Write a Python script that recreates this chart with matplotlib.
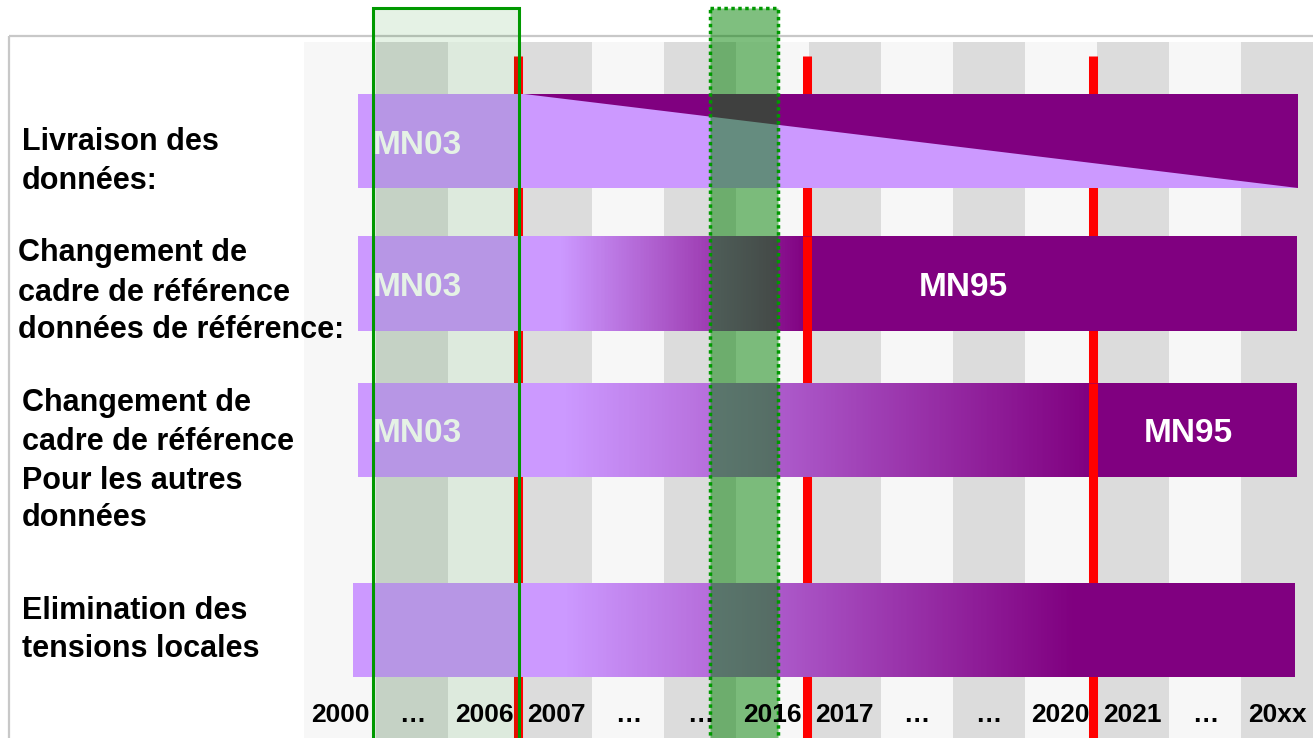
import numpy as np
from matplotlib import pyplot as plt
from matplotlib.colors import LinearSegmentedColormap
from matplotlib.patches import Rectangle, Polygon

plt.rcParams['font.family'] = ['Liberation Sans', 'DejaVu Sans']

# timeline columns (one column per tick label)
years = ["2000", "…", "2006", "2007", "…", "…", "2016", "2017", "…", "…", "2020", "2021", "…", "20xx"]

# row titles on the left
row_labels = ["Livraison des\ndonnées:",
              "Changement de\ncadre de référence\ndonnées de référence:",
              "Changement de\ncadre de référence\nPour les autres\ndonnées",
              "Elimination des\ntensions locales"]

# bars, in column units
bar_start = [0.75, 0.75, 0.75, 0.68]
bar_end = [13.79, 13.77, 13.77, 13.74]
fade_start = [3.05, 3.55, 3.6, 3.6]
fade_end = [13.79, 7.0, 10.95, 10.7]
bar_kind = ["wedge", "fade", "fade", "fade"]

# labels inside the bars
old_label = ["MN03", "MN03", "MN03", ""]
new_label = ["", "MN95", "MN95", ""]
new_label_x = [0, 9.15, 12.27, 0]

# red milestones (column boundaries) and the bar each one crosses on top
red_lines = [2.97, 6.98, 10.95]
red_on_bar = {1: 6.98, 2: 10.95}

# green windows
window_solid = (0.96, 2.98)
window_dotted = (5.63, 6.58)

light = '#cc99ff'
dark = '#800080'
cmap = LinearSegmentedColormap.from_list('mn', [light, dark])

# layout (pixels of the 1313x738 picture)
col0_px, col_w = 304, (1313 - 304) / 14
bar_top = [94, 236, 383, 583]
bar_bot = [188, 331, 477, 677]
label_y = [[141, 180], [252, 292, 329], [402, 441, 480, 517], [610, 648]]
label_x = [22, 18, 22, 22]

fig = plt.figure(figsize=(13.13, 7.38), dpi=100)
ax = fig.add_axes([0, 0, 1, 1])
ax.axis('off')

# background stripes and year labels
for i, y in enumerate(years):
    c = '#f7f7f7' if i % 2 == 0 else '#dcdcdc'
    ax.add_patch(Rectangle((i, 42), 1, 720, facecolor=c, edgecolor='none', zorder=0))
    ax.text(i + 0.5, 715, y, ha='center', va='center', fontsize=19, fontweight='bold',
            color='black', zorder=6)

# frame
left_x = (9 - col0_px) / col_w
ax.plot([left_x, left_x], [36, 740], color='#c8c8c8', lw=1.6, zorder=0.5, solid_capstyle='butt')
ax.plot([left_x, 14.5], [36, 36], color='#c8c8c8', lw=1.6, zorder=0.5, solid_capstyle='butt')

# red milestones
for xr in red_lines:
    ax.plot([xr, xr], [56, 745], color='red', lw=6.5, zorder=1, solid_capstyle='butt')

# bars
for k in range(4):
    x0, x1 = bar_start[k], bar_end[k]
    t, b = bar_top[k], bar_bot[k]
    if bar_kind[k] == "wedge":
        ax.add_patch(Rectangle((x0, t), x1 - x0, b - t, facecolor=light, edgecolor='none', zorder=2))
        ax.add_patch(Polygon([(fade_start[k], t), (x1, t), (x1, b)], closed=True,
                             facecolor=dark, edgecolor='none', zorder=2.1))
    else:
        xs = np.linspace(x0, x1, 600)
        vals = np.clip((xs - fade_start[k]) / (fade_end[k] - fade_start[k]), 0, 1)
        ax.imshow(vals[np.newaxis, :], cmap=cmap, vmin=0, vmax=1, extent=(x0, x1, b, t),
                  aspect='auto', interpolation='nearest', zorder=2)
    if old_label[k]:
        ax.text(0.955, (t + b) / 2 + 4, old_label[k], ha='left', va='center', fontsize=24,
                fontweight='bold', color='white', zorder=3)
    if new_label[k]:
        ax.text(new_label_x[k], (t + b) / 2 + 4, new_label[k], ha='center', va='center',
                fontsize=24, fontweight='bold', color='white', zorder=3)

for k, xr in red_on_bar.items():
    ax.plot([xr, xr], [bar_top[k], bar_bot[k]], color='red', lw=6.5, zorder=2.5, solid_capstyle='butt')

# row titles
for k, lab in enumerate(row_labels):
    for j, line in enumerate(lab.split("\n")):
        ax.text((label_x[k] - col0_px) / col_w, label_y[k][j] + 1, line, ha='left', va='center',
                fontsize=22, fontweight='bold', color='black', zorder=6)

# green windows
ax.add_patch(Rectangle((window_solid[0], 8), window_solid[1] - window_solid[0], 740,
                       facecolor=(0, 0.5, 0, 0.1), edgecolor='#009900', lw=2.2, zorder=5))
ax.add_patch(Rectangle((window_dotted[0], 8), window_dotted[1] - window_dotted[0], 740,
                       facecolor=(0, 0.5, 0, 0.5), edgecolor='#009900', lw=2.5,
                       linestyle=(0, (1, 1)), zorder=5))

ax.set_xlim(-col0_px / col_w, 14)
ax.set_ylim(738, 0)

fig.savefig("out.png", dpi=100)
